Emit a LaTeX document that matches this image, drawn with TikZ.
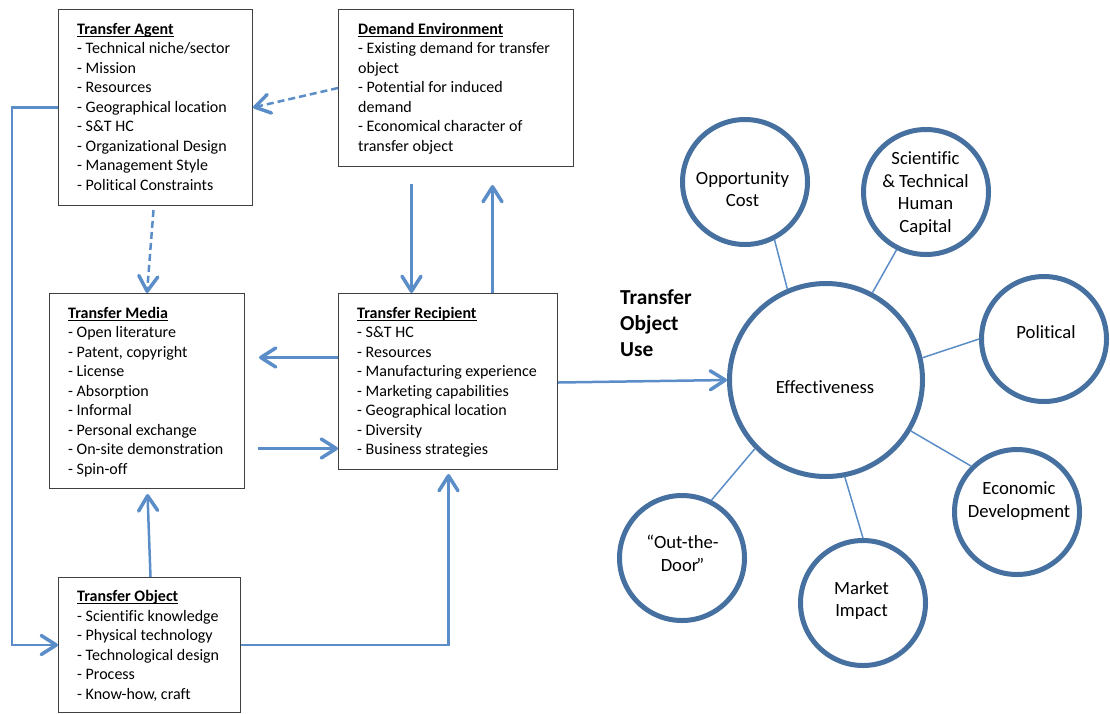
\documentclass[tikz,border=0pt]{standalone}
\usepackage{fontspec}
\setmainfont{Carlito}[Ligatures={NoCommon,TeX}]
\usetikzlibrary{arrows.meta}

\definecolor{flow}{RGB}{91,141,200}
\definecolor{ring}{RGB}{70,112,160}
\definecolor{frame}{RGB}{64,64,64}

% underlined bold heading with the rule close under the baseline
\newlength\titlewd
\newcommand\boxtitle[1]{\settowidth{\titlewd}{\bfseries #1}\rlap{\rule[-2.4pt]{\titlewd}{0.9pt}}\textbf{#1}}
% stacked lines whose baseline is the first line
\newcommand\leftlines[1]{\begin{tabular}[t]{@{}l@{}}#1\end{tabular}}
\newcommand\midlines[1]{\begin{tabular}[t]{@{}c@{}}#1\end{tabular}}

\tikzset{
  factorbox/.style={draw=frame, line width=1pt, inner sep=0pt, anchor=north west},
  boxtext/.style={anchor=base west, inner sep=0pt, font=\fontsize{16}{19.5}\selectfont},
  ringnode/.style={circle, draw=ring, fill=white, line width=5pt, inner sep=0pt, minimum size=125pt},
  ringtext/.style={anchor=base, inner sep=0pt, font=\fontsize{18.67}{22.8}\selectfont},
  flowarrow/.style={draw=flow, line width=2.5pt,
    -{Straight Barb[length=15pt, width=19pt, line width=3.5pt, round]}},
  dasharrow/.style={flowarrow, dash pattern=on 7pt off 4pt},
  spoke/.style={draw=flow, line width=1.5pt},
}

\begin{document}
\begin{tikzpicture}[x=1pt, y=-1pt]
\useasboundingbox (0,0) rectangle (1110,713);

% ---- factor boxes ----
\node[factorbox, minimum width=194pt, minimum height=196pt] (agent) at (58,9) {};
\node[factorbox, minimum width=235pt, minimum height=157pt] (demand) at (338,9) {};
\node[factorbox, minimum width=195pt, minimum height=195pt] (media) at (49,293) {};
\node[factorbox, minimum width=219pt, minimum height=176pt] (recip) at (338,293) {};
\node[factorbox, minimum width=182pt, minimum height=135pt] (object) at (58,577) {};

\node[boxtext] (agentT) at ([shift={(19,25.3)}]agent.north west) {\leftlines{%
  \boxtitle{Transfer Agent}\\
  - Technical niche/sector\\
  - Mission\\
  - Resources\\
  - Geographical location\\
  - S\&T HC\\
  - Organizational Design\\
  - Management Style\\
  - Political Constraints}};

\node[boxtext] (demandT) at ([shift={(20,25.3)}]demand.north west) {\leftlines{%
  \boxtitle{Demand Environment}\\
  - Existing demand for transfer\\
  object\\
  - Potential for induced\\
  demand\\
  - Economical character of\\
  transfer object}};

\node[boxtext] (mediaT) at ([shift={(19,25.3)}]media.north west) {\leftlines{%
  \boxtitle{Transfer Media}\\
  - Open literature\\
  - Patent, copyright\\
  - License\\
  - Absorption\\
  - Informal\\
  - Personal exchange\\
  - On-site demonstration\\
  - Spin-off}};

\node[boxtext] (recipT) at ([shift={(19,25)}]recip.north west) {\leftlines{%
  \boxtitle{Transfer Recipient}\\
  - S\&T HC\\
  - Resources\\
  - Manufacturing experience\\
  - Marketing capabilities\\
  - Geographical location\\
  - Diversity\\
  - Business strategies}};

\node[boxtext] (objectT) at ([shift={(19,24.8)}]object.north west) {\leftlines{%
  \boxtitle{Transfer Object}\\
  - Scientific knowledge\\
  - Physical technology\\
  - Technological design\\
  - Process\\
  - Know-how, craft}};

% ---- heading of the use side ----
\node[anchor=base west, inner sep=0pt, font=\fontsize{21.33}{26}\selectfont\bfseries] (useLabel)
  at (620,304) {\leftlines{Transfer\\Object\\Use}};

% ---- effectiveness circles ----
\node[ringnode, minimum size=193pt] (eff) at (826,380) {};
\node[ringnode] (opp) at (745,182) {};
\node[ringnode] (sci) at (926,192) {};
\node[ringnode] (pol) at (1044,339) {};
\node[ringnode] (eco) at (1017,512) {};
\node[ringnode] (mkt) at (863,603) {};
\node[ringnode] (out) at (682,558) {};

\node[ringtext] (effT) at ([shift={(-1,13.3)}]eff.center) {Effectiveness};
\node[ringtext] (oppT) at ([shift={(-2.5,2)}]opp.center) {\midlines{Opportunity\\Cost}};
\node[ringtext] (sciT) at ([shift={(-0.5,-27.7)}]sci.center) {\midlines{Scientific\\\& Technical\\Human\\Capital}};
\node[ringtext] (polT) at ([shift={(2,-0.7)}]pol.center) {Political};
\node[ringtext] (ecoT) at ([shift={(2,-17.7)}]eco.center) {\midlines{Economic\\Development}};
\node[ringtext] (mktT) at ([shift={(-1.5,-9)}]mkt.center) {\midlines{Market\\Impact}};
\node[ringtext] (outT) at ([shift={(0.5,-9.7)}]out.center) {\midlines{“Out-the-\\Door\kern-2pt”}};

\draw[spoke] (opp.-63) -- (eff.113);
\draw[spoke] (sci.-117) -- (eff.62);
\draw[spoke] (pol.180) -- (eff.13);
\draw[spoke] (eco.135) -- (eff.-31);
\draw[spoke] (mkt.90) -- (eff.-79);
\draw[spoke] (out.63) -- (eff.-136);

% ---- flows between the factors ----
\draw[dasharrow] (demand.west) -- (agent.east);
\draw[dasharrow] ([shift={(-2,4)}]agent.south) -- (media.north);
\draw[flowarrow] ([shift={(-44.5,17)}]demand.south) -- ([shift={(-36.5,0)}]recip.north);
\draw[flowarrow] ([shift={(44.5,0)}]recip.north) -- ([shift={(36.5,18)}]demand.south);
\draw[flowarrow] ([shift={(0,-24)}]recip.west) -- ([shift={(14,-33.5)}]media.east);
\draw[flowarrow] ([shift={(13,57.5)}]media.east) -- ([shift={(0,67)}]recip.west);
\draw[flowarrow] ([shift={(1,0)}]object.north) -- ([shift={(0.5,5)}]media.south);
\draw[flowarrow] (object.east) -| ([shift={(0.5,4)}]recip.south);
\draw[flowarrow] (agent.west) -- ++(-46,0) |- (object.west);
\draw[flowarrow] ([shift={(0,1)}]recip.east) -- (eff.west);
\end{tikzpicture}
\end{document}
